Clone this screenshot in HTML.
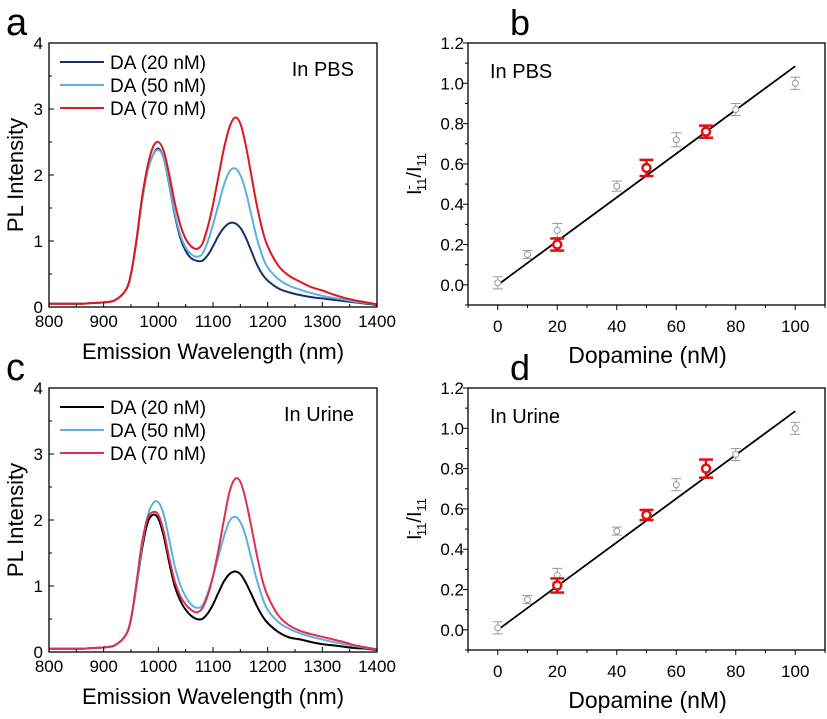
<!DOCTYPE html>
<html><head><meta charset="utf-8"><style>
body{margin:0;background:#fff}
svg text{font-family:"Liberation Sans",Arial,sans-serif;fill:#000}
</style></head><body>
<svg id="fig" width="827" height="714" viewBox="0 0 827 714" xmlns="http://www.w3.org/2000/svg"></svg>
<script>
const wl=[800,820,840,860,880,900,920,940,950,960,970,980,990,1000,1010,1020,1030,1040,1050,1060,1070,1080,1090,1100,1110,1120,1130,1140,1150,1160,1170,1180,1190,1200,1220,1240,1260,1280,1300,1320,1340,1360,1380,1400];
const aS20=[0.05,0.05,0.05,0.05,0.06,0.07,0.1,0.25,0.5,1.0,1.6,2.05,2.3,2.4,2.25,1.85,1.4,1.05,0.85,0.74,0.7,0.7,0.78,0.92,1.08,1.2,1.27,1.27,1.2,1.05,0.85,0.65,0.5,0.4,0.28,0.22,0.18,0.15,0.13,0.11,0.09,0.07,0.05,0.03];
const aS50=[0.05,0.05,0.05,0.05,0.06,0.07,0.1,0.25,0.5,1.0,1.6,2.05,2.3,2.38,2.25,1.87,1.43,1.1,0.9,0.8,0.76,0.8,0.98,1.25,1.55,1.85,2.05,2.1,2.0,1.75,1.4,1.05,0.78,0.6,0.42,0.32,0.26,0.21,0.17,0.14,0.11,0.08,0.06,0.04];
const aS70=[0.05,0.05,0.05,0.05,0.06,0.07,0.1,0.25,0.5,1.02,1.65,2.12,2.42,2.5,2.36,2.0,1.58,1.25,1.03,0.92,0.88,0.95,1.2,1.55,1.98,2.4,2.72,2.87,2.78,2.45,2.0,1.55,1.18,0.92,0.62,0.47,0.38,0.3,0.25,0.19,0.14,0.1,0.07,0.04];
const cS20=[0.05,0.05,0.05,0.05,0.06,0.07,0.1,0.25,0.5,1.0,1.55,1.95,2.08,2.02,1.75,1.35,1.0,0.78,0.64,0.55,0.5,0.5,0.58,0.72,0.9,1.07,1.18,1.22,1.18,1.05,0.88,0.7,0.55,0.44,0.3,0.22,0.19,0.15,0.12,0.1,0.08,0.06,0.05,0.03];
const cS50=[0.05,0.05,0.05,0.05,0.06,0.07,0.1,0.25,0.5,1.0,1.6,2.05,2.25,2.27,2.08,1.7,1.3,1.02,0.84,0.72,0.67,0.7,0.88,1.15,1.45,1.75,1.98,2.05,1.97,1.75,1.42,1.1,0.83,0.64,0.45,0.35,0.28,0.23,0.19,0.15,0.12,0.09,0.06,0.04];
const cS70=[0.05,0.05,0.05,0.05,0.06,0.07,0.1,0.25,0.5,1.05,1.65,2.02,2.12,2.08,1.82,1.42,1.07,0.85,0.72,0.64,0.6,0.66,0.85,1.15,1.55,2.0,2.42,2.62,2.58,2.3,1.9,1.48,1.1,0.85,0.55,0.4,0.32,0.27,0.23,0.19,0.15,0.1,0.07,0.04];
const conc=[0,10,20,40,60,80,100];
const bGray=[0.01,0.15,0.27,0.49,0.72,0.87,1.0];
const bGrayErr=[0.03,0.02,0.035,0.025,0.035,0.03,0.03];
const redConc=[20,50,70];
const bRed=[0.2,0.58,0.76];
const bRedErr=[0.03,0.04,0.03];
const dGray=[0.01,0.15,0.27,0.49,0.72,0.87,1.0];
const dGrayErr=[0.03,0.02,0.035,0.02,0.03,0.03,0.03];
const dRed=[0.22,0.57,0.8];
const dRedErr=[0.035,0.025,0.045];
const fitX=[0,100];
const fitY=[0.0,1.085];
const legendLabels=['DA (20 nM)','DA (50 nM)','DA (70 nM)'];

const NS='http://www.w3.org/2000/svg';
const svg=document.getElementById('fig');
function mk(tag,attrs,parent,txt){const e=document.createElementNS(NS,tag);for(const k in attrs)e.setAttribute(k,attrs[k]);if(txt!==undefined)e.textContent=txt;(parent||svg).appendChild(e);return e;}
function smooth(P){let d='M'+P[0][0].toFixed(1)+' '+P[0][1].toFixed(1);
  for(let i=0;i<P.length-1;i++){const p0=P[Math.max(0,i-1)],p1=P[i],p2=P[i+1],p3=P[Math.min(P.length-1,i+2)];
    const c1=[p1[0]+(p2[0]-p0[0])/6,p1[1]+(p2[1]-p0[1])/6],c2=[p2[0]-(p3[0]-p1[0])/6,p2[1]-(p3[1]-p1[1])/6];
    d+=`C${c1[0].toFixed(1)} ${c1[1].toFixed(1)} ${c2[0].toFixed(1)} ${c2[1].toFixed(1)} ${p2[0].toFixed(1)} ${p2[1].toFixed(1)}`;}
  return d;}

function spectrum(oy,letter,label,series,colors){
  const L=49,R=377,T=43+oy,B=307+oy;
  const g=mk('g',{});
  
  
  const X=v=>L+(v-800)/600*(R-L), Y=v=>B-v/4*(B-T);
  series.forEach((s,i)=>{
    const p=mk('path',{d:smooth(s.map((v,j)=>[X(wl[j]),Y(v)])),fill:'none',stroke:colors[i],'stroke-width':2},g);
    
    
  });
  mk('rect',{x:L,y:T,width:R-L,height:B-T,fill:'none',stroke:'#000','stroke-width':1.3},g);
  for(let v=800;v<=1400;v+=50){const x=X(v);mk('line',{x1:x,x2:x,y1:B,y2:B-(v%100?3:5),stroke:'#000'},g);
    if(v%100===0){const t=mk('text',{x:x,y:B+20,'text-anchor':'middle','font-size':17},g,v);}}
  for(let v=0;v<=4;v+=0.5){const y=Y(v);mk('line',{x1:L,x2:L+(v%1?3:5),y1:y,y2:y,stroke:'#000'},g);
    if(v%1===0){const t=mk('text',{x:L-6,y:y+6,'text-anchor':'end','font-size':17},g,v);}}
  const xt=mk('text',{x:(L+R)/2,y:B+52,'text-anchor':'middle','font-size':22},g,'Emission Wavelength (nm)');
  
  const yt=mk('text',{x:0,y:0,'text-anchor':'middle','font-size':22,transform:`translate(23,${(T+B)/2}) rotate(-90)`},g,'PL Intensity');
  
  const pl=mk('text',{x:6,y:T-8,'font-size':38},g,letter);
  
  const ct=mk('text',{x:R-23,y:T+33,'text-anchor':'end','font-size':20},g,label);
  
  legendLabels.forEach((lb,i)=>{const y=T+19+i*23;
    const le=mk('g',{},g);
    mk('line',{x1:60,x2:104,y1:y,y2:y,stroke:colors[i],'stroke-width':2},le);
    mk('text',{x:110,y:y+7,'font-size':19},le,lb);});
}

function calib(oy,letter,gray,grayErr,red,redErr){
  const L=468,R=825,T=43+oy,B=305+oy;
  const g=mk('g',{});
  
  
  const X=v=>L+(v+10)/120*(R-L), Y=v=>B-(v+0.1)/1.3*(B-T);
  mk('rect',{x:L,y:T,width:R-L,height:B-T,fill:'none',stroke:'#000','stroke-width':1.3},g);
  for(let v=-10;v<=110;v+=10){const x=X(v);mk('line',{x1:x,x2:x,y1:B,y2:B+(v%20?3:5),stroke:'#000'},g);
    if(v>=0&&v<=100&&v%20===0){const t=mk('text',{x:x,y:B+27,'text-anchor':'middle','font-size':17},g,v);}}
  for(let k=-1;k<=12;k++){const v=k/10,y=Y(v);mk('line',{x1:L,x2:L-(k%2?3:5),y1:y,y2:y,stroke:'#000'},g);
    if(k>=0&&k%2===0){const t=mk('text',{x:L-4,y:y+6,'text-anchor':'end','font-size':17},g,v.toFixed(1));}}
  const f=mk('line',{x1:X(fitX[0]),y1:Y(fitY[0]),x2:X(fitX[1]),y2:Y(fitY[1]),stroke:'#000','stroke-width':1.8},g);
  
  function pt(x,y,e,col,r,w,cap,nm){const p=mk('g',{},g);
    const cx=X(x),y1=Y(y+e),y2=Y(y-e);
    mk('line',{x1:cx,x2:cx,y1:y1,y2:y2,stroke:col,'stroke-width':w},p);
    mk('line',{x1:cx-cap,x2:cx+cap,y1:y1,y2:y1,stroke:col,'stroke-width':w},p);
    mk('line',{x1:cx-cap,x2:cx+cap,y1:y2,y2:y2,stroke:col,'stroke-width':w},p);
    mk('circle',{cx:cx,cy:Y(y),r:r,fill:'#fff',stroke:col,'stroke-width':w},p);}
  conc.forEach((c,i)=>pt(c,gray[i],grayErr[i],'#999',3,1,5,'gray-point'));
  redConc.forEach((c,i)=>pt(c,red[i],redErr[i],'#e01010',4,2.5,7,'red-point'));
  const xt=mk('text',{x:(L+R)/2+1,y:B+58,'text-anchor':'middle','font-size':23},g,'Dopamine (nM)');
  
  const yt=mk('text',{x:0,y:0,'text-anchor':'middle','font-size':20,transform:`translate(421,${(T+B)/2}) rotate(-90)`},g);
  
  mk('tspan',{},yt,'I');mk('tspan',{dy:-8,'font-size':13},yt,'-');mk('tspan',{dy:13,dx:-6,'font-size':13},yt,'11');
  mk('tspan',{dy:-5},yt,'/I');mk('tspan',{dy:5,'font-size':13},yt,'11');
  const pl=mk('text',{x:510,y:T-8,'font-size':36},g,letter);
  
  const ct=mk('text',{x:L+22,y:T+35,'font-size':20},g,oy?'In Urine':'In PBS');
  
}
spectrum(0,'a','In PBS',[aS20,aS50,aS70],['#1b2f6e','#5eb0e2','#e3151c']);
spectrum(345,'c','In Urine',[cS20,cS50,cS70],['#000','#5eb0e2','#e0304a']);
calib(0,'b',bGray,bGrayErr,bRed,bRedErr);
calib(345,'d',dGray,dGrayErr,dRed,dRedErr);
</script>
</body></html>
